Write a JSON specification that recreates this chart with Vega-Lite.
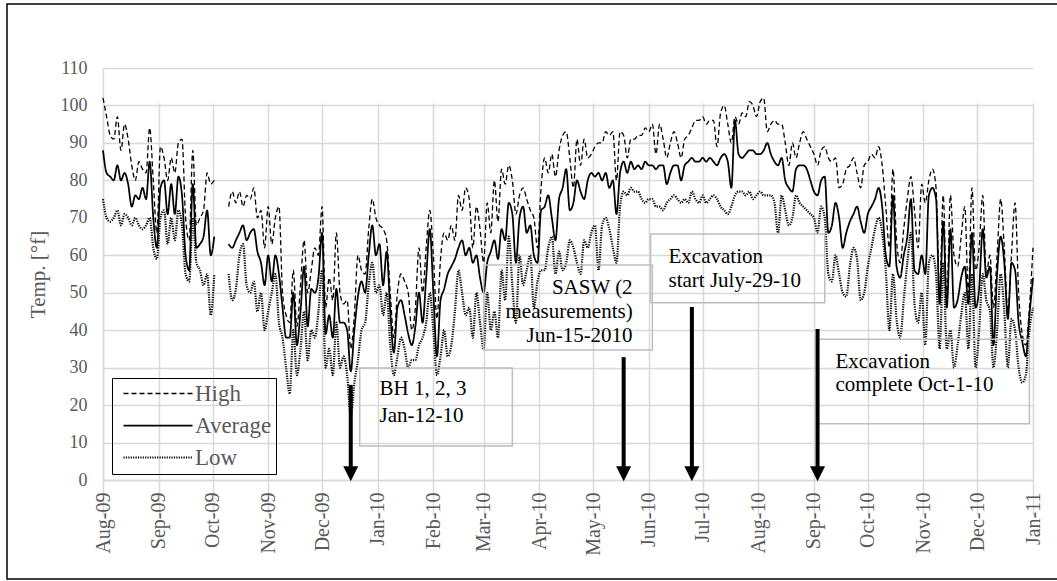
{
  "$schema": "https://vega.github.io/schema/vega-lite/v6.json",
  "width": 1051,
  "height": 575,
  "autosize": "none",
  "padding": {"left": 7, "top": 4, "right": 0, "bottom": 2},
  "background": "white",
  "config": {
    "view": {"stroke": "#000", "strokeWidth": 1.5},
    "font": "Liberation Serif",
    "axis": {
      "labelFont": "Liberation Serif",
      "labelColor": "#595959",
      "titleFont": "Liberation Serif",
      "titleColor": "#595959",
      "titleFontWeight": "normal",
      "domainColor": "#d9d9d9",
      "domainWidth": 1.5,
      "gridColor": "#d9d9d9",
      "gridWidth": 1.5,
      "ticks": false
    }
  },
  "datasets": {
    "temps": [
      {"t":"2009-08-01","h":102,"a":88,"l":75},
      {"t":"2009-08-03","h":97,"a":82,"l":70},
      {"t":"2009-08-05","h":92,"a":81,"l":69},
      {"t":"2009-08-07","h":91,"a":80,"l":70},
      {"t":"2009-08-09","h":97,"a":84,"l":72},
      {"t":"2009-08-11","h":88,"a":80,"l":68},
      {"t":"2009-08-13","h":95,"a":82,"l":71},
      {"t":"2009-08-15","h":91,"a":79,"l":70},
      {"t":"2009-08-17","h":84,"a":73,"l":68},
      {"t":"2009-08-19","h":80,"a":76,"l":70},
      {"t":"2009-08-21","h":85,"a":75,"l":68},
      {"t":"2009-08-23","h":83,"a":78,"l":67},
      {"t":"2009-08-25","h":82,"a":75,"l":68},
      {"t":"2009-08-27","h":94,"a":85,"l":70},
      {"t":"2009-08-29","h":80,"a":70,"l":62},
      {"t":"2009-08-31","h":66,"a":62,"l":59},
      {"t":"2009-09-02","h":89,"a":78,"l":70},
      {"t":"2009-09-04","h":86,"a":80,"l":72},
      {"t":"2009-09-06","h":80,"a":71,"l":63},
      {"t":"2009-09-08","h":86,"a":79,"l":70},
      {"t":"2009-09-10","h":82,"a":71,"l":64},
      {"t":"2009-09-12","h":90,"a":81,"l":72},
      {"t":"2009-09-14","h":91,"a":76,"l":68},
      {"t":"2009-09-16","h":70,"a":60,"l":55},
      {"t":"2009-09-18","h":64,"a":56,"l":53},
      {"t":"2009-09-20","h":88,"a":79,"l":70},
      {"t":"2009-09-22","h":68,"a":62,"l":58},
      {"t":"2009-09-24","h":70,"a":63,"l":56},
      {"t":"2009-09-26","h":72,"a":65,"l":52},
      {"t":"2009-09-28","h":82,"a":72,"l":55},
      {"t":"2009-09-30","h":79,"a":60,"l":44},
      {"t":"2009-10-02","h":80,"a":65,"l":55},
      {"t":"2009-10-06","h":null,"a":null,"l":null},
      {"t":"2009-10-10","h":73,"a":63,"l":55},
      {"t":"2009-10-12","h":77,"a":62,"l":48},
      {"t":"2009-10-14","h":74,"a":64,"l":51},
      {"t":"2009-10-16","h":77,"a":66,"l":60},
      {"t":"2009-10-18","h":73,"a":68,"l":63},
      {"t":"2009-10-20","h":76,"a":64,"l":52},
      {"t":"2009-10-22","h":75,"a":66,"l":50},
      {"t":"2009-10-24","h":78,"a":67,"l":53},
      {"t":"2009-10-26","h":70,"a":61,"l":45},
      {"t":"2009-10-28","h":72,"a":58,"l":50},
      {"t":"2009-10-30","h":62,"a":52,"l":40},
      {"t":"2009-11-01","h":73,"a":60,"l":45},
      {"t":"2009-11-03","h":63,"a":53,"l":50},
      {"t":"2009-11-05","h":70,"a":60,"l":55},
      {"t":"2009-11-07","h":73,"a":55,"l":42},
      {"t":"2009-11-09","h":50,"a":46,"l":38},
      {"t":"2009-11-11","h":44,"a":38,"l":30},
      {"t":"2009-11-13","h":42,"a":38,"l":23},
      {"t":"2009-11-15","h":56,"a":50,"l":40},
      {"t":"2009-11-17","h":41,"a":36,"l":28},
      {"t":"2009-11-19","h":52,"a":45,"l":35},
      {"t":"2009-11-21","h":64,"a":57,"l":45},
      {"t":"2009-11-23","h":50,"a":41,"l":32},
      {"t":"2009-11-25","h":56,"a":51,"l":40},
      {"t":"2009-11-27","h":62,"a":50,"l":38},
      {"t":"2009-11-29","h":60,"a":54,"l":45},
      {"t":"2009-12-01","h":73,"a":66,"l":56},
      {"t":"2009-12-03","h":46,"a":39,"l":30},
      {"t":"2009-12-05","h":54,"a":44,"l":35},
      {"t":"2009-12-07","h":48,"a":38,"l":28},
      {"t":"2009-12-09","h":66,"a":51,"l":42},
      {"t":"2009-12-11","h":50,"a":42,"l":30},
      {"t":"2009-12-13","h":47,"a":42,"l":33},
      {"t":"2009-12-15","h":48,"a":40,"l":28},
      {"t":"2009-12-17","h":35,"a":29,"l":17},
      {"t":"2009-12-19","h":44,"a":40,"l":26},
      {"t":"2009-12-21","h":60,"a":49,"l":32},
      {"t":"2009-12-23","h":56,"a":53,"l":40},
      {"t":"2009-12-25","h":55,"a":50,"l":42},
      {"t":"2009-12-27","h":67,"a":60,"l":52},
      {"t":"2009-12-29","h":75,"a":68,"l":58},
      {"t":"2009-12-31","h":70,"a":60,"l":50},
      {"t":"2010-01-02","h":68,"a":63,"l":52},
      {"t":"2010-01-04","h":67,"a":52,"l":44},
      {"t":"2010-01-06","h":64,"a":61,"l":50},
      {"t":"2010-01-08","h":50,"a":45,"l":36},
      {"t":"2010-01-10","h":38,"a":34,"l":28},
      {"t":"2010-01-12","h":50,"a":46,"l":33},
      {"t":"2010-01-14","h":55,"a":48,"l":38},
      {"t":"2010-01-16","h":53,"a":44,"l":35},
      {"t":"2010-01-18","h":50,"a":39,"l":30},
      {"t":"2010-01-20","h":40,"a":36,"l":32},
      {"t":"2010-01-22","h":46,"a":41,"l":32},
      {"t":"2010-01-24","h":62,"a":50,"l":36},
      {"t":"2010-01-26","h":50,"a":42,"l":38},
      {"t":"2010-01-28","h":62,"a":54,"l":42},
      {"t":"2010-01-30","h":72,"a":67,"l":50},
      {"t":"2010-02-01","h":60,"a":50,"l":40},
      {"t":"2010-02-03","h":43,"a":33,"l":28},
      {"t":"2010-02-05","h":59,"a":48,"l":33},
      {"t":"2010-02-07","h":66,"a":51,"l":40},
      {"t":"2010-02-09","h":64,"a":55,"l":33},
      {"t":"2010-02-11","h":68,"a":57,"l":36},
      {"t":"2010-02-13","h":64,"a":59,"l":45},
      {"t":"2010-02-15","h":76,"a":62,"l":56},
      {"t":"2010-02-17","h":72,"a":64,"l":50},
      {"t":"2010-02-19","h":78,"a":60,"l":44},
      {"t":"2010-02-21","h":75,"a":62,"l":46},
      {"t":"2010-02-23","h":62,"a":58,"l":38},
      {"t":"2010-02-25","h":73,"a":60,"l":50},
      {"t":"2010-02-27","h":67,"a":54,"l":42},
      {"t":"2010-03-01","h":58,"a":50,"l":35},
      {"t":"2010-03-03","h":74,"a":58,"l":50},
      {"t":"2010-03-05","h":66,"a":61,"l":40},
      {"t":"2010-03-07","h":80,"a":64,"l":45},
      {"t":"2010-03-09","h":69,"a":59,"l":38},
      {"t":"2010-03-11","h":83,"a":67,"l":56},
      {"t":"2010-03-13","h":79,"a":64,"l":48},
      {"t":"2010-03-15","h":84,"a":74,"l":65},
      {"t":"2010-03-17","h":80,"a":71,"l":52},
      {"t":"2010-03-19","h":71,"a":58,"l":42},
      {"t":"2010-03-21","h":76,"a":70,"l":60},
      {"t":"2010-03-23","h":78,"a":73,"l":52},
      {"t":"2010-03-25","h":75,"a":66,"l":56},
      {"t":"2010-03-27","h":72,"a":68,"l":60},
      {"t":"2010-03-29","h":70,"a":60,"l":46},
      {"t":"2010-03-31","h":62,"a":58,"l":53},
      {"t":"2010-04-02","h":78,"a":72,"l":56},
      {"t":"2010-04-04","h":86,"a":73,"l":56},
      {"t":"2010-04-06","h":82,"a":76,"l":62},
      {"t":"2010-04-08","h":87,"a":70,"l":65},
      {"t":"2010-04-10","h":81,"a":64,"l":55},
      {"t":"2010-04-12","h":88,"a":75,"l":61},
      {"t":"2010-04-14","h":92,"a":78,"l":56},
      {"t":"2010-04-16","h":93,"a":83,"l":58},
      {"t":"2010-04-18","h":86,"a":72,"l":64},
      {"t":"2010-04-20","h":78,"a":74,"l":62},
      {"t":"2010-04-22","h":91,"a":80,"l":58},
      {"t":"2010-04-24","h":84,"a":77,"l":55},
      {"t":"2010-04-26","h":91,"a":75,"l":64},
      {"t":"2010-04-28","h":86,"a":80,"l":62},
      {"t":"2010-04-30","h":87,"a":82,"l":66},
      {"t":"2010-05-02","h":89,"a":81,"l":68},
      {"t":"2010-05-04","h":90,"a":82,"l":56},
      {"t":"2010-05-06","h":90,"a":80,"l":68},
      {"t":"2010-05-08","h":93,"a":82,"l":70},
      {"t":"2010-05-10","h":92,"a":78,"l":67},
      {"t":"2010-05-12","h":93,"a":80,"l":62},
      {"t":"2010-05-14","h":80,"a":71,"l":58},
      {"t":"2010-05-16","h":93,"a":82,"l":73},
      {"t":"2010-05-18","h":92,"a":85,"l":77},
      {"t":"2010-05-20","h":86,"a":82,"l":76},
      {"t":"2010-05-22","h":91,"a":85,"l":78},
      {"t":"2010-05-24","h":91,"a":83,"l":77},
      {"t":"2010-05-26","h":92,"a":84,"l":77},
      {"t":"2010-05-28","h":92,"a":83,"l":75},
      {"t":"2010-05-30","h":94,"a":85,"l":74},
      {"t":"2010-06-01","h":93,"a":84,"l":75},
      {"t":"2010-06-03","h":95,"a":84,"l":75},
      {"t":"2010-06-05","h":87,"a":83,"l":73},
      {"t":"2010-06-07","h":95,"a":84,"l":73},
      {"t":"2010-06-09","h":91,"a":84,"l":72},
      {"t":"2010-06-11","h":86,"a":79,"l":74},
      {"t":"2010-06-13","h":90,"a":82,"l":75},
      {"t":"2010-06-15","h":93,"a":84,"l":76},
      {"t":"2010-06-17","h":90,"a":84,"l":75},
      {"t":"2010-06-19","h":86,"a":80,"l":74},
      {"t":"2010-06-21","h":91,"a":84,"l":75},
      {"t":"2010-06-23","h":92,"a":85,"l":74},
      {"t":"2010-06-25","h":94,"a":86,"l":77},
      {"t":"2010-06-27","h":96,"a":85,"l":75},
      {"t":"2010-06-29","h":96,"a":85,"l":74},
      {"t":"2010-07-01","h":97,"a":86,"l":76},
      {"t":"2010-07-03","h":95,"a":85,"l":74},
      {"t":"2010-07-05","h":96,"a":86,"l":75},
      {"t":"2010-07-07","h":96,"a":85,"l":76},
      {"t":"2010-07-09","h":89,"a":84,"l":75},
      {"t":"2010-07-11","h":98,"a":86,"l":73},
      {"t":"2010-07-13","h":100,"a":87,"l":72},
      {"t":"2010-07-15","h":95,"a":85,"l":71},
      {"t":"2010-07-17","h":90,"a":78,"l":73},
      {"t":"2010-07-19","h":97,"a":96,"l":76},
      {"t":"2010-07-21","h":95,"a":87,"l":77},
      {"t":"2010-07-23","h":98,"a":86,"l":77},
      {"t":"2010-07-25","h":97,"a":87,"l":76},
      {"t":"2010-07-27","h":101,"a":88,"l":77},
      {"t":"2010-07-29","h":100,"a":88,"l":75},
      {"t":"2010-07-31","h":97,"a":87,"l":76},
      {"t":"2010-08-02","h":101,"a":87,"l":77},
      {"t":"2010-08-04","h":102,"a":88,"l":76},
      {"t":"2010-08-06","h":93,"a":90,"l":76},
      {"t":"2010-08-08","h":95,"a":87,"l":76},
      {"t":"2010-08-10","h":96,"a":85,"l":74},
      {"t":"2010-08-12","h":95,"a":84,"l":66},
      {"t":"2010-08-14","h":95,"a":86,"l":76},
      {"t":"2010-08-16","h":90,"a":80,"l":72},
      {"t":"2010-08-18","h":84,"a":78,"l":68},
      {"t":"2010-08-20","h":90,"a":77,"l":70},
      {"t":"2010-08-22","h":86,"a":83,"l":76},
      {"t":"2010-08-24","h":90,"a":84,"l":74},
      {"t":"2010-08-26","h":93,"a":84,"l":73},
      {"t":"2010-08-28","h":91,"a":83,"l":72},
      {"t":"2010-08-30","h":89,"a":80,"l":71},
      {"t":"2010-09-01","h":87,"a":77,"l":70},
      {"t":"2010-09-03","h":84,"a":76,"l":66},
      {"t":"2010-09-05","h":88,"a":80,"l":73},
      {"t":"2010-09-07","h":89,"a":81,"l":70},
      {"t":"2010-09-09","h":86,"a":66,"l":55},
      {"t":"2010-09-11","h":85,"a":68,"l":53},
      {"t":"2010-09-13","h":86,"a":74,"l":60},
      {"t":"2010-09-15","h":78,"a":70,"l":55},
      {"t":"2010-09-17","h":79,"a":62,"l":50},
      {"t":"2010-09-19","h":83,"a":66,"l":49},
      {"t":"2010-09-21","h":84,"a":69,"l":57},
      {"t":"2010-09-23","h":86,"a":71,"l":62},
      {"t":"2010-09-25","h":82,"a":73,"l":59},
      {"t":"2010-09-27","h":78,"a":69,"l":48},
      {"t":"2010-09-29","h":84,"a":66,"l":50},
      {"t":"2010-10-01","h":85,"a":71,"l":57},
      {"t":"2010-10-03","h":87,"a":73,"l":62},
      {"t":"2010-10-05","h":86,"a":75,"l":67},
      {"t":"2010-10-07","h":89,"a":78,"l":70},
      {"t":"2010-10-09","h":84,"a":73,"l":66},
      {"t":"2010-10-11","h":73,"a":60,"l":56},
      {"t":"2010-10-13","h":62,"a":57,"l":40},
      {"t":"2010-10-15","h":83,"a":76,"l":55},
      {"t":"2010-10-17","h":64,"a":57,"l":43},
      {"t":"2010-10-19","h":58,"a":54,"l":38},
      {"t":"2010-10-21","h":67,"a":60,"l":48},
      {"t":"2010-10-23","h":75,"a":65,"l":58},
      {"t":"2010-10-25","h":81,"a":75,"l":66},
      {"t":"2010-10-27","h":72,"a":56,"l":47},
      {"t":"2010-10-29","h":62,"a":55,"l":42},
      {"t":"2010-10-31","h":79,"a":60,"l":50},
      {"t":"2010-11-02","h":74,"a":55,"l":36},
      {"t":"2010-11-04","h":80,"a":76,"l":58},
      {"t":"2010-11-06","h":83,"a":78,"l":60},
      {"t":"2010-11-08","h":78,"a":75,"l":55},
      {"t":"2010-11-10","h":50,"a":47,"l":35},
      {"t":"2010-11-12","h":76,"a":69,"l":58},
      {"t":"2010-11-14","h":48,"a":46,"l":35},
      {"t":"2010-11-16","h":76,"a":67,"l":40},
      {"t":"2010-11-18","h":60,"a":46,"l":30},
      {"t":"2010-11-20","h":57,"a":48,"l":36},
      {"t":"2010-11-22","h":65,"a":54,"l":44},
      {"t":"2010-11-24","h":73,"a":57,"l":50},
      {"t":"2010-11-26","h":50,"a":47,"l":35},
      {"t":"2010-11-28","h":78,"a":66,"l":55},
      {"t":"2010-11-30","h":56,"a":46,"l":30},
      {"t":"2010-12-02","h":62,"a":51,"l":40},
      {"t":"2010-12-04","h":76,"a":67,"l":55},
      {"t":"2010-12-06","h":55,"a":54,"l":48},
      {"t":"2010-12-08","h":60,"a":57,"l":45},
      {"t":"2010-12-10","h":46,"a":36,"l":30},
      {"t":"2010-12-12","h":60,"a":55,"l":40},
      {"t":"2010-12-14","h":75,"a":65,"l":55},
      {"t":"2010-12-16","h":62,"a":58,"l":45},
      {"t":"2010-12-18","h":45,"a":43,"l":30},
      {"t":"2010-12-20","h":60,"a":58,"l":43},
      {"t":"2010-12-22","h":74,"a":56,"l":40},
      {"t":"2010-12-24","h":50,"a":42,"l":30},
      {"t":"2010-12-26","h":39,"a":37,"l":26},
      {"t":"2010-12-28","h":36,"a":33,"l":28},
      {"t":"2010-12-30","h":46,"a":44,"l":40},
      {"t":"2011-01-01","h":62,"a":54,"l":46}
    ],
    "boxes": [
      {"t":"2009-12-22","t2":"2010-03-17","v":29.9,"v2":9.1},
      {"t":"2010-03-01","t2":"2010-06-03","v":57.4,"v2":34.7},
      {"t":"2010-06-02","t2":"2010-09-07","v":65.7,"v2":47.3},
      {"t":"2010-09-03","t2":"2010-12-30","v":37.6,"v2":15.0}
    ],
    "arrows": [
      {"t":"2009-12-17","v":25.4,"v2":3.5},
      {"t":"2010-05-18","v":32.8,"v2":3.5},
      {"t":"2010-06-25","v":46.2,"v2":3.5},
      {"t":"2010-09-03","v":40.3,"v2":3.5}
    ],
    "heads": [
      {"t":"2009-12-17","v":1.7},
      {"t":"2010-05-18","v":1.7},
      {"t":"2010-06-25","v":1.7},
      {"t":"2010-09-03","v":1.7}
    ],
    "notes": [
      {"t":"2010-01-02","v":22.7,"txt":"BH 1, 2, 3","al":"l"},
      {"t":"2010-01-02","v":15.5,"txt":"Jan-12-10","al":"l"},
      {"t":"2010-05-23","v":49.7,"txt":"SASW (2","al":"r"},
      {"t":"2010-05-23","v":43.3,"txt":"measurements)","al":"r"},
      {"t":"2010-05-23","v":36.8,"txt":"Jun-15-2010","al":"r"},
      {"t":"2010-06-12","v":57.9,"txt":"Excavation","al":"l"},
      {"t":"2010-06-12","v":51.5,"txt":"start July-29-10","al":"l"},
      {"t":"2010-09-13","v":29.9,"txt":"Excavation","al":"l"},
      {"t":"2010-09-13","v":23.8,"txt":"complete  Oct-1-10","al":"l"}
    ]
  },
  "layer": [
    {
      "data": {"name": "temps"},
      "transform": [{"fold": ["h", "a", "l"], "as": ["k", "v"]}],
      "mark": {"type": "line", "color": "#000", "interpolate": "monotone"},
      "encoding": {
        "x": {
          "field": "t", "type": "temporal",
          "scale": {"type": "utc", "nice": false, "range": [96, 1026],
            "domain": [{"year": 2009, "month": 8, "date": 1, "utc": true}, {"year": 2011, "month": 1, "date": 1, "utc": true}]},
          "axis": {
            "title": null, "offset": -99, "grid": true, "format": "%b-%y",
            "labelAngle": -90, "labelPadding": 12, "labelFontSize": 20,
            "labelFlush": false, "labelOverlap": false, "labelBound": false,
            "values": [
              {"year": 2009, "month": 8, "date": 1, "utc": true},
              {"year": 2009, "month": 9, "date": 1, "utc": true},
              {"year": 2009, "month": 10, "date": 1, "utc": true},
              {"year": 2009, "month": 11, "date": 1, "utc": true},
              {"year": 2009, "month": 12, "date": 1, "utc": true},
              {"year": 2010, "month": 1, "date": 1, "utc": true},
              {"year": 2010, "month": 2, "date": 1, "utc": true},
              {"year": 2010, "month": 3, "date": 1, "utc": true},
              {"year": 2010, "month": 4, "date": 1, "utc": true},
              {"year": 2010, "month": 5, "date": 1, "utc": true},
              {"year": 2010, "month": 6, "date": 1, "utc": true},
              {"year": 2010, "month": 7, "date": 1, "utc": true},
              {"year": 2010, "month": 8, "date": 1, "utc": true},
              {"year": 2010, "month": 9, "date": 1, "utc": true},
              {"year": 2010, "month": 10, "date": 1, "utc": true},
              {"year": 2010, "month": 11, "date": 1, "utc": true},
              {"year": 2010, "month": 12, "date": 1, "utc": true},
              {"year": 2011, "month": 1, "date": 1, "utc": true}
            ]
          }
        },
        "y": {
          "field": "v", "type": "quantitative",
          "scale": {"domain": [0, 110], "range": [476, 64], "nice": false, "zero": false},
          "axis": {
            "title": "Temp. [°f]", "offset": -96, "grid": true,
            "values": [0, 10, 20, 30, 40, 50, 60, 70, 80, 90, 100, 110],
            "labelFontSize": 18, "labelPadding": 16,
            "titleFontSize": 21, "titlePadding": 12
          }
        },
        "strokeDash": {
          "field": "k", "type": "nominal",
          "scale": {"domain": ["h", "a", "l"], "range": [[5, 3], [1, 0], [1.2, 1.2]]},
          "legend": {
            "orient": "none", "legendX": 105, "legendY": 374, "title": null,
            "symbolType": "M0,0H6.9", "symbolSize": 400, "symbolOffset": -4,
            "symbolStrokeColor": "#000",
            "labelOffset": 60, "labelFontSize": 23, "labelColor": "#595959", "labelFont": "Liberation Serif",
            "labelExpr": "datum.label == 'h' ? 'High' : datum.label == 'a' ? 'Average' : 'Low'",
            "strokeColor": "#000", "padding": 4, "rowPadding": 8
          }
        },
        "strokeWidth": {
          "field": "k", "type": "nominal",
          "scale": {"domain": ["h", "a", "l"], "range": [1.3, 2.2, 1]}
        }
      }
    },
    {
      "data": {"name": "boxes"},
      "mark": {"type": "rect", "filled": false, "color": "#bfbfbf", "strokeWidth": 1.5},
      "encoding": {
        "x": {"field": "t", "type": "temporal"},
        "x2": {"field": "t2"},
        "y": {"field": "v", "type": "quantitative"},
        "y2": {"field": "v2"}
      }
    },
    {
      "data": {"name": "arrows"},
      "mark": {"type": "rule", "color": "#000", "strokeWidth": 4},
      "encoding": {
        "x": {"field": "t", "type": "temporal"},
        "y": {"field": "v", "type": "quantitative"},
        "y2": {"field": "v2"}
      }
    },
    {
      "data": {"name": "heads"},
      "mark": {"type": "point", "shape": "M-1,-1L1,-1L0,1Z", "filled": true, "color": "#000", "size": 225, "opacity": 1},
      "encoding": {
        "x": {"field": "t", "type": "temporal"},
        "y": {"field": "v", "type": "quantitative"}
      }
    },
    {
      "data": {"name": "notes"},
      "transform": [{"filter": "datum.al == 'l'"}],
      "mark": {"type": "text", "align": "left", "baseline": "alphabetic", "font": "Liberation Serif", "fontSize": 21, "color": "#000"},
      "encoding": {
        "x": {"field": "t", "type": "temporal"},
        "y": {"field": "v", "type": "quantitative"},
        "text": {"field": "txt"}
      }
    },
    {
      "data": {"name": "notes"},
      "transform": [{"filter": "datum.al == 'r'"}],
      "mark": {"type": "text", "align": "right", "baseline": "alphabetic", "font": "Liberation Serif", "fontSize": 21, "color": "#000"},
      "encoding": {
        "x": {"field": "t", "type": "temporal"},
        "y": {"field": "v", "type": "quantitative"},
        "text": {"field": "txt"}
      }
    }
  ]
}
